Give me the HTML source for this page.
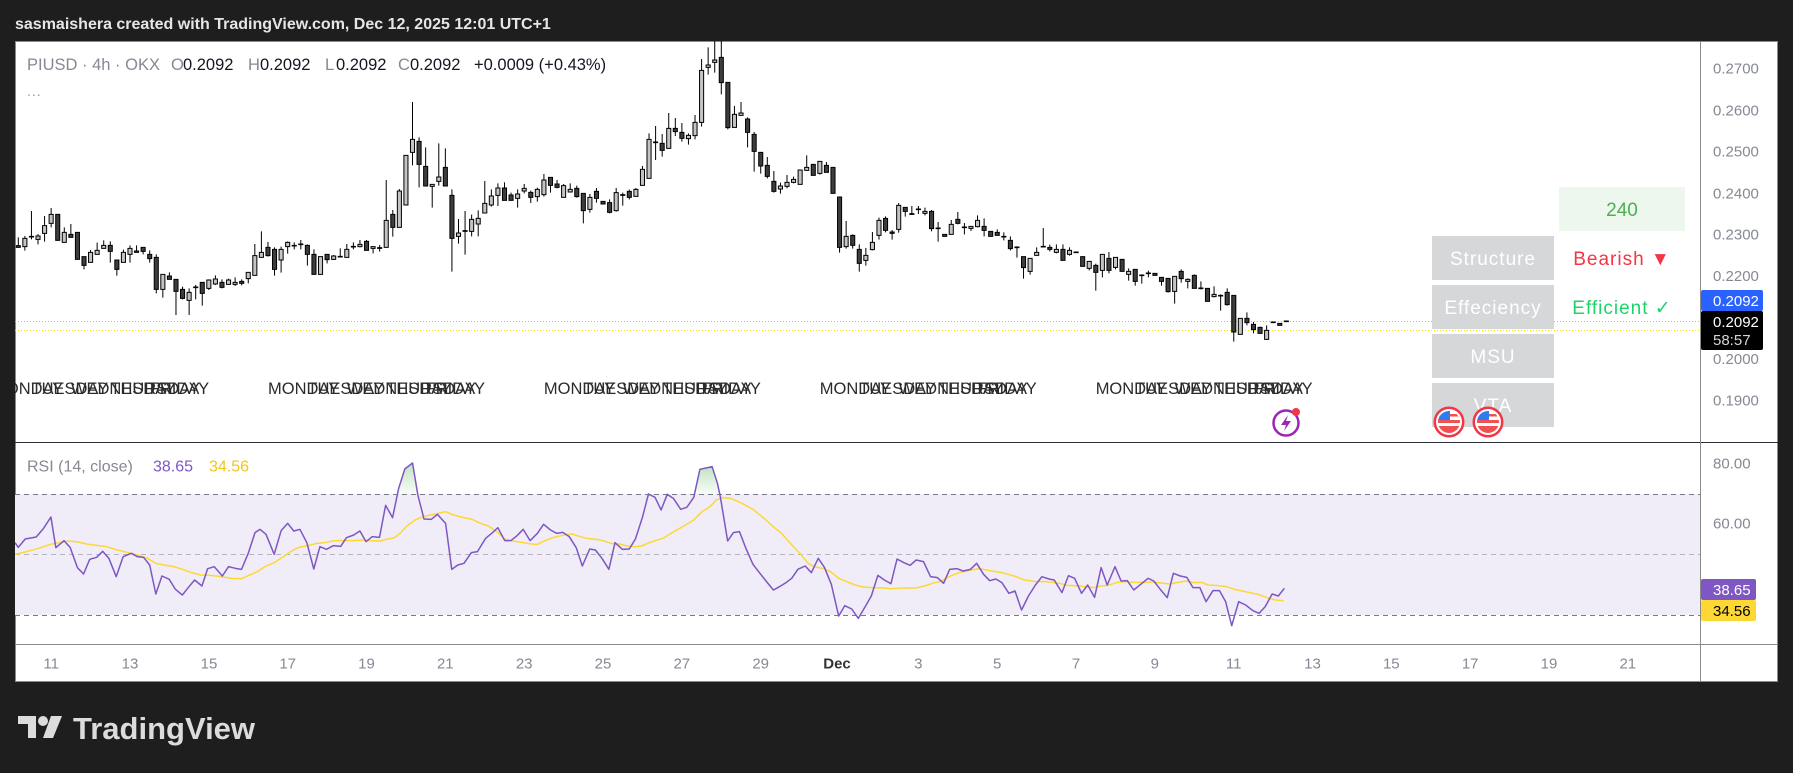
<!DOCTYPE html>
<html><head><meta charset="utf-8"><style>
html,body{margin:0;padding:0;background:#1e1e1e;width:1793px;height:773px;overflow:hidden}
svg{display:block}
text{font-family:"Liberation Sans",sans-serif}
</style></head><body>
<svg width="1793" height="773" viewBox="0 0 1793 773" xmlns="http://www.w3.org/2000/svg">
<defs>
<clipPath id="pane"><rect x="15" y="41" width="1685" height="401"/></clipPath>
<clipPath id="rsipane"><rect x="15" y="443" width="1685" height="201"/></clipPath>
<clipPath id="fc"><circle cx="0" cy="0" r="11"/></clipPath>
<linearGradient id="gr" x1="0" y1="0" x2="0" y2="1"><stop offset="0" stop-color="#4caf50" stop-opacity="0.35"/><stop offset="1" stop-color="#4caf50" stop-opacity="0.03"/></linearGradient>
</defs>
<rect x="0" y="0" width="1793" height="773" fill="#1e1e1e"/>
<text x="15" y="29" font-size="16" font-weight="bold" fill="#e6e6e6">sasmaishera created with TradingView.com, Dec 12, 2025 12:01 UTC+1</text>
<rect x="15.5" y="41.5" width="1762" height="640" fill="#fff" stroke="#8a8a8a"/>

<!-- price lines -->
<line x1="15" y1="321.5" x2="1700" y2="321.5" stroke="#b5b5b5" stroke-dasharray="1 2"/>
<line x1="15" y1="330.5" x2="1700" y2="330.5" stroke="#f2e200" stroke-dasharray="1 2"/>

<!-- legend -->
<text y="70" font-size="16.5" fill="#868993"><tspan x="27">PIUSD · 4h · OKX</tspan><tspan x="171">O</tspan><tspan x="248">H</tspan><tspan x="325">L</tspan><tspan x="398">C</tspan></text>
<text y="70" font-size="16.5" fill="#131722"><tspan x="183">0.2092</tspan><tspan x="260">0.2092</tspan><tspan x="336">0.2092</tspan><tspan x="410">0.2092</tspan><tspan x="474">+0.0009 (+0.43%)</tspan></text>
<text x="27" y="96" font-size="14" fill="#9598a1" letter-spacing="1">...</text>

<!-- candles -->
<svg x="15" y="41" width="1275" height="400" viewBox="-0.502 3 194.06 1200" preserveAspectRatio="none">
<path vector-effect="non-scaling-stroke" stroke="#000" stroke-width="1" fill="none" d="M0 592V622M1 588V632M2 513V598M3 582V613M4 528V605M5 504V562M6 523V601M7 562V607M8 552V592M9 577V658M10 650V688M11 630V667M12 608V643M13 601V625M14 604V668M15 660V707M16 629V667M17 616V668M18 616V637M19 622V643M20 631V668M21 643V760M22 703V773M23 697V718M24 718V825M25 740V778M26 745V825M27 735V778M28 727V797M29 718V750M30 706V735M31 718V745M32 716V733M33 712V738M34 718V736M35 697V730M36 612V706M37 574V652M38 606V650M39 622V707M40 620V698M41 604V641M42 607V628M43 600V628M44 613V677M45 628V703M46 650V703M47 643V670M48 645V660M49 625V652M50 612V652M51 607V628M52 600V622M53 600V631M54 620V640M55 615V635M56 420V622M57 510V590M58 447V562M59 346V495M60 186V376M61 292V442M62 322V438M63 433V503M64 310V437M65 325V438M66 448V695M67 537V611M68 513V644M69 524V589M70 511V589M71 423V519M72 448V500M73 430V498M74 427V481M75 458V481M76 448V503M77 432V460M78 452V489M79 443V485M80 402V470M81 412V458M82 420V445M83 432V472M84 430V456M85 437V473M86 460V550M87 462V518M88 444V488M89 484V492M90 478V520M91 444V515M92 458V497M93 449V478M94 444V469M95 378V436M96 280V415M97 258V360M98 282V350M99 219V325M100 234V288M101 249V305M102 280V314M103 225V298M104 57V260M105 22V104M106 -20V98M107 -20V163M108 127V268M109 198V262M110 186V226M111 232V322M112 276V395M113 337V401M114 351V415M115 393V458M116 428V461M117 405V445M118 410V430M119 390V433M120 346V391M121 373V406M122 364V404M123 366V397M124 382V460M125 471V638M126 543V626M127 583V626M128 613V695M129 624V677M130 576V631M131 533V599M132 529V577M133 570V599M134 489V578M135 502V530M136 498V525M137 498V522M138 503V526M139 510V574M140 546V605M141 583V589M142 540V583M143 516V553M144 549V583M145 559V573M146 526V562M147 535V589M148 574V589M149 568V586M150 577V601M151 589V631M152 619V653M153 650V716M154 655V704M155 622V646M156 564V622M157 614V634M158 613V640M159 613V661M160 622V647M161 637V639M162 650V679M163 664V691M164 671V752M165 643V712M166 636V700M167 652V688M168 658V694M169 685V722M170 688V737M171 703V731M172 692V712M173 700V706M174 712V737M175 715V758M176 709V791M177 688V728M178 715V745M179 703V745M180 724V748M181 745V784M182 739V772M183 763V812M184 745V797M185 766V905M186 835V883M187 817V856M188 846V880M189 860V880M190 856V898"/>
<g transform="translate(-0.31 0)">
<path vector-effect="non-scaling-stroke" stroke="#000" stroke-width="1" fill="#c4c4c4" d="M1 595h.62v25h-.62zM3 588h.62v10h-.62zM4 557h.62v23h-.62zM5 523h.62v27h-.62zM7 577h.62v30h-.62zM11 637h.62v30h-.62zM12 631h.62v12h-.62zM13 616h.62v9h-.62zM16 637h.62v30h-.62zM17 625h.62v18h-.62zM22 703h.62v45h-.62zM26 757h.62v24h-.62zM29 720h.62v25h-.62zM30 717h.62v15h-.62zM32 720h.62v13h-.62zM33 727h.62v6h-.62zM35 697h.62v19h-.62zM36 647h.62v59h-.62zM37 637h.62v15h-.62zM40 628h.62v32h-.62zM41 607h.62v13h-.62zM46 650h.62v53h-.62zM48 648h.62v10h-.62zM50 628h.62v24h-.62zM52 613h.62v7h-.62zM54 620h.62v5h-.62zM56 541h.62v81h-.62zM58 453h.62v109h-.62zM59 346h.62v149h-.62zM60 298h.62v39h-.62zM63 433h.62v6h-.62zM64 411h.62v13h-.62zM67 579h.62v10h-.62zM69 538h.62v36h-.62zM70 535h.62v17h-.62zM71 490h.62v29h-.62zM72 468h.62v27h-.62zM73 444h.62v22h-.62zM76 462h.62v13h-.62zM77 445h.62v8h-.62zM79 448h.62v22h-.62zM80 420h.62v44h-.62zM83 437h.62v35h-.62zM84 448h.62v8h-.62zM87 472h.62v36h-.62zM91 458h.62v54h-.62zM94 448h.62v21h-.62zM95 388h.62v48h-.62zM96 298h.62v117h-.62zM99 265h.62v60h-.62zM102 286h.62v10h-.62zM103 247h.62v40h-.62zM104 91h.62v156h-.62zM105 75h.62v7h-.62zM106 60h.62v7h-.62zM109 223h.62v39h-.62zM110 219h.62v7h-.62zM116 438h.62v9h-.62zM117 427h.62v12h-.62zM118 418h.62v9h-.62zM119 390h.62v43h-.62zM120 382h.62v9h-.62zM122 364h.62v36h-.62zM126 589h.62v31h-.62zM129 646h.62v15h-.62zM130 607h.62v22h-.62zM131 541h.62v45h-.62zM134 496h.62v72h-.62zM138 514h.62v6h-.62zM142 553h.62v30h-.62zM145 559h.62v6h-.62zM146 541h.62v19h-.62zM154 655h.62v39h-.62zM155 637h.62v9h-.62zM158 628h.62v9h-.62zM160 631h.62v12h-.62zM163 664h.62v21h-.62zM165 643h.62v48h-.62zM167 652h.62v30h-.62zM169 694h.62v9h-.62zM176 709h.62v45h-.62zM178 718h.62v6h-.62zM182 763h.62v7h-.62zM186 835h.62v48h-.62zM190 871h.62v27h-.62z"/>
<path vector-effect="non-scaling-stroke" stroke="#000" stroke-width="1" fill="#3d3d3d" d="M0 617h.62v5h-.62zM6 523h.62v78h-.62zM8 583h.62v9h-.62zM9 577h.62v81h-.62zM10 650h.62v26h-.62zM14 616h.62v18h-.62zM15 660h.62v28h-.62zM18 633h.62v4h-.62zM19 622h.62v12h-.62zM20 643h.62v13h-.62zM21 652h.62v96h-.62zM23 708h.62v10h-.62zM24 718h.62v36h-.62zM25 748h.62v27h-.62zM28 727h.62v33h-.62zM31 727h.62v15h-.62zM34 724h.62v6h-.62zM38 622h.62v25h-.62zM39 628h.62v60h-.62zM44 616h.62v27h-.62zM45 643h.62v60h-.62zM47 643h.62v16h-.62zM53 604h.62v27h-.62zM57 523h.62v39h-.62zM61 304h.62v69h-.62zM62 379h.62v59h-.62zM65 382h.62v56h-.62zM66 466h.62v129h-.62zM74 444h.62v37h-.62zM75 465h.62v16h-.62zM78 457h.62v15h-.62zM81 412h.62v24h-.62zM82 432h.62v10h-.62zM85 445h.62v25h-.62zM86 460h.62v52h-.62zM88 454h.62v21h-.62zM89 484h.62v8h-.62zM90 488h.62v29h-.62zM93 454h.62v18h-.62zM98 310h.62v21h-.62zM100 265h.62v10h-.62zM101 277h.62v18h-.62zM107 52h.62v76h-.62zM108 127h.62v136h-.62zM111 237h.62v40h-.62zM112 283h.62v51h-.62zM113 337h.62v41h-.62zM114 376h.62v33h-.62zM115 424h.62v30h-.62zM121 373h.62v33h-.62zM123 376h.62v21h-.62zM124 382h.62v78h-.62zM125 471h.62v151h-.62zM127 586h.62v30h-.62zM128 628h.62v42h-.62zM132 535h.62v36h-.62zM133 576h.62v4h-.62zM135 502h.62v12h-.62zM139 514h.62v52h-.62zM141 583h.62v6h-.62zM143 538h.62v12h-.62zM147 559h.62v12h-.62zM148 574h.62v15h-.62zM149 577h.62v9h-.62zM151 601h.62v25h-.62zM153 650h.62v33h-.62zM157 622h.62v6h-.62zM159 628h.62v33h-.62zM162 650h.62v29h-.62zM164 676h.62v21h-.62zM166 655h.62v36h-.62zM168 658h.62v36h-.62zM170 688h.62v36h-.62zM173 700h.62v6h-.62zM174 712h.62v12h-.62zM175 715h.62v40h-.62zM177 694h.62v22h-.62zM179 706h.62v39h-.62zM181 745h.62v39h-.62zM184 757h.62v37h-.62zM185 766h.62v110h-.62zM187 835h.62v13h-.62zM188 853h.62v16h-.62zM189 862h.62v18h-.62zM192 850h.62v6h-.62z"/>
<path vector-effect="non-scaling-stroke" stroke="#000" stroke-width="1" fill="#000" d="M2 589h.62v2h-.62zM27 741h.62v2h-.62zM42 616h.62v2h-.62zM43 612h.62v2h-.62zM49 649h.62v2h-.62zM51 619h.62v2h-.62zM55 623h.62v2h-.62zM68 572h.62v2h-.62zM92 464h.62v2h-.62zM97 306h.62v2h-.62zM136 521h.62v2h-.62zM137 507h.62v2h-.62zM140 564h.62v2h-.62zM144 561h.62v2h-.62zM150 589h.62v2h-.62zM152 621h.62v2h-.62zM156 619h.62v2h-.62zM161 636h.62v2h-.62zM171 705h.62v2h-.62zM172 699h.62v2h-.62zM180 744h.62v2h-.62zM183 766h.62v2h-.62zM191 846h.62v2h-.62zM193 843h.62v2h-.62z"/>
</g>
</svg>

<!-- weekday labels -->
<g clip-path="url(#pane)" font-size="16.5" fill="#2b2b2b">
<text y="394"><tspan x="-7.9">MONDAY</tspan></text><text y="394"><tspan x="31.5">TUESDAY</tspan></text><text y="394"><tspan x="70.9">WEDNESDAY</tspan></text><text y="394"><tspan x="110.4">THURSDAY</tspan></text><text y="394"><tspan x="149.8">FRIDAY</tspan></text>
<text y="394"><tspan x="268">MONDAY</tspan></text><text y="394"><tspan x="307.4">TUESDAY</tspan></text><text y="394"><tspan x="346.8">WEDNESDAY</tspan></text><text y="394"><tspan x="386.3">THURSDAY</tspan></text><text y="394"><tspan x="425.7">FRIDAY</tspan></text>
<text y="394"><tspan x="543.9">MONDAY</tspan></text><text y="394"><tspan x="583.3">TUESDAY</tspan></text><text y="394"><tspan x="622.7">WEDNESDAY</tspan></text><text y="394"><tspan x="662.2">THURSDAY</tspan></text><text y="394"><tspan x="701.6">FRIDAY</tspan></text>
<text y="394"><tspan x="819.8">MONDAY</tspan></text><text y="394"><tspan x="859.2">TUESDAY</tspan></text><text y="394"><tspan x="898.6">WEDNESDAY</tspan></text><text y="394"><tspan x="938.1">THURSDAY</tspan></text><text y="394"><tspan x="977.5">FRIDAY</tspan></text>
<text y="394"><tspan x="1095.7">MONDAY</tspan></text><text y="394"><tspan x="1135.1">TUESDAY</tspan></text><text y="394"><tspan x="1174.5">WEDNESDAY</tspan></text><text y="394"><tspan x="1214">THURSDAY</tspan></text><text y="394"><tspan x="1253.4">FRIDAY</tspan></text>
</g>

<!-- table -->
<rect x="1559" y="187" width="126" height="44" fill="#edf7ee"/>
<text x="1622" y="216" font-size="19" fill="#4caf50" text-anchor="middle">240</text>
<rect x="1432" y="236" width="122" height="44" fill="#d6d7d9"/>
<rect x="1432" y="285" width="122" height="44" fill="#d6d7d9"/>
<rect x="1432" y="334" width="122" height="44" fill="#d6d7d9"/>
<rect x="1432" y="383" width="122" height="44" fill="#d6d7d9"/>
<g font-size="19" fill="#fff" text-anchor="middle" letter-spacing="1">
<text x="1493" y="265">Structure</text>
<text x="1493" y="314">Effeciency</text>
<text x="1493" y="363">MSU</text>
<text x="1493" y="412">VTA</text>
</g>
<text x="1622" y="265" font-size="19" fill="#f23645" text-anchor="middle" letter-spacing="1">Bearish ▼</text>
<text x="1622" y="314" font-size="19" fill="#1ed36a" text-anchor="middle" letter-spacing="1">Efficient ✓</text>

<!-- flags -->
<g transform="translate(1449,422)">
<circle r="15.5" fill="#f23645"/><circle r="13" fill="#fff"/>
<g clip-path="url(#fc)"><rect x="-11" y="-11" width="22" height="22" fill="#fff"/><rect x="-11" y="-2" width="22" height="3" fill="#f05050"/><rect x="-11" y="4" width="22" height="7" fill="#f05050"/><rect x="-11" y="-11" width="12" height="9" fill="#2f7bf0"/><rect x="1" y="-8" width="10" height="2.5" fill="#f05050"/></g>
</g>
<g transform="translate(1488,422)">
<circle r="15.5" fill="#f23645"/><circle r="13" fill="#fff"/>
<g clip-path="url(#fc)"><rect x="-11" y="-11" width="22" height="22" fill="#fff"/><rect x="-11" y="-2" width="22" height="3" fill="#f05050"/><rect x="-11" y="4" width="22" height="7" fill="#f05050"/><rect x="-11" y="-11" width="12" height="9" fill="#2f7bf0"/><rect x="1" y="-8" width="10" height="2.5" fill="#f05050"/></g>
</g>
<!-- lightning icon -->
<g transform="translate(1286,423)">
<circle r="12.5" fill="#fff" stroke="#9c27b0" stroke-width="2.5"/>
<path d="M2 -8 L-5 2 H0 L-2 8 L5 -2 H0 Z" fill="#9c27b0"/>
<circle cx="10" cy="-11" r="4" fill="#f23645"/>
</g>

<!-- separators -->
<line x1="15" y1="442.5" x2="1778" y2="442.5" stroke="#2a2e39"/>
<line x1="15" y1="644.5" x2="1778" y2="644.5" stroke="#8a8a8a"/>
<line x1="1700.5" y1="41" x2="1700.5" y2="682" stroke="#8a8a8a"/>

<!-- price axis -->
<g font-size="15" fill="#868993">
<text x="1713" y="73.5">0.2700</text>
<text x="1713" y="115.5">0.2600</text>
<text x="1713" y="156.5">0.2500</text>
<text x="1713" y="198.5">0.2400</text>
<text x="1713" y="239.5">0.2300</text>
<text x="1713" y="281">0.2200</text>
<text x="1713" y="364">0.2000</text>
<text x="1713" y="405.5">0.1900</text>
</g>
<rect x="1701" y="290" width="62" height="21" rx="2" fill="#2962ff"/>
<text x="1713" y="306" font-size="15" fill="#fff">0.2092</text>
<rect x="1701" y="311" width="62" height="39" rx="2" fill="#000"/>
<text x="1713" y="327" font-size="15" fill="#fff">0.2092</text>
<text x="1713" y="345" font-size="15" fill="#d6d6d6">58:57</text>

<!-- RSI pane -->
<rect x="15" y="494" width="1685" height="121" fill="#f0edf8"/>
<line x1="15" y1="494.5" x2="1700" y2="494.5" stroke="#787b86" stroke-dasharray="5 4"/>
<line x1="15" y1="554.5" x2="1700" y2="554.5" stroke="#b2b5be" stroke-dasharray="5 4"/>
<line x1="15" y1="615.5" x2="1700" y2="615.5" stroke="#787b86" stroke-dasharray="5 4"/>
<g clip-path="url(#rsipane)">
<g transform="translate(15,470) scale(0.408163,0.333333)">
<polygon points="937,73 940,55 955,-3 974,-21 986.7,73" fill="url(#gr)"/>
<polygon points="1664.6,73 1678,-2 1708,-10 1721,40 1726.8,73" fill="url(#gr)"/>
<polyline vector-effect="non-scaling-stroke" fill="none" stroke="#fdd835" stroke-width="1.5" stroke-linejoin="round" points="0,253 25,246 50,238 70,230 90,222 110,218 130,213 150,215 175,222 200,226 225,230 250,240 275,247 300,255 325,265 345,280 365,285 390,290 410,298 430,307 455,315 480,316 505,320 530,325 555,326 575,315 595,304 615,288 635,278 655,262 675,245 695,232 720,226 740,220 760,218 780,212 800,212 830,212 850,210 870,212 895,213 910,208 930,203 945,188 960,168 980,150 1000,140 1030,132 1055,125 1075,135 1100,143 1120,148 1140,160 1160,168 1180,185 1200,207 1220,213 1245,218 1265,222 1280,223 1300,211 1320,202 1345,195 1365,192 1385,200 1405,206 1425,208 1440,212 1460,220 1480,222 1500,228 1520,230 1535,228 1550,220 1568,212 1588,205 1618,182 1643,165 1663,150 1683,125 1703,110 1718,90 1733,83 1753,85 1778,98 1808,118 1833,143 1858,170 1878,190 1898,218 1923,250 1943,280 1958,290 1978,295 1998,305 2018,325 2038,335 2058,345 2078,351 2098,353 2128,354 2148,356 2178,354 2208,354 2228,348 2248,340 2268,334 2288,320 2313,308 2338,301 2363,296 2388,302 2418,308 2448,318 2473,330 2498,334 2528,335 2558,340 2578,346 2608,348 2643,353 2658,348 2678,346 2698,338 2718,335 2748,337 2788,336 2828,342 2868,333 2888,338 2908,337 2923,345 2948,347 2968,350 2988,358 3018,366 3048,374 3068,383 3088,390 3108,392"/>
<polyline vector-effect="non-scaling-stroke" fill="none" stroke="#7e57c2" stroke-width="1.5" stroke-linejoin="round" points="0,218 8,232 25,207 52,201 70,175 88,141 100,233 120,212 135,232 153,293 168,312 183,268 200,262 215,244 230,265 248,320 265,260 285,250 300,260 315,262 330,285 345,372 360,318 378,328 393,358 410,375 425,352 440,330 458,348 472,296 488,290 508,318 523,290 540,295 555,298 572,248 588,188 600,178 615,193 635,253 652,182 668,160 683,183 698,178 715,218 732,297 747,230 763,238 780,227 798,229 812,203 830,195 845,183 860,215 875,200 893,202 908,106 925,143 940,55 955,-3 974,-21 987,75 1002,147 1020,148 1035,133 1055,160 1070,298 1085,285 1100,280 1118,248 1133,245 1153,205 1168,190 1183,173 1200,212 1215,212 1230,197 1245,178 1262,212 1280,190 1295,163 1312,180 1327,190 1342,187 1358,200 1375,233 1390,288 1408,237 1422,240 1438,265 1455,298 1470,218 1488,238 1505,237 1520,207 1537,143 1552,72 1568,82 1583,120 1598,73 1613,85 1631,118 1646,112 1663,82 1678,-2 1708,-10 1721,40 1728,80 1746,213 1760,188 1775,185 1790,233 1808,283 1825,310 1840,333 1858,360 1873,350 1890,337 1903,325 1918,298 1936,288 1951,308 1968,265 1983,292 2000,343 2018,438 2033,407 2050,417 2066,445 2083,410 2098,378 2114,316 2130,330 2146,341 2161,267 2178,278 2193,286 2208,270 2226,275 2243,320 2260,323 2275,340 2290,298 2308,296 2323,303 2341,298 2356,280 2373,313 2388,332 2403,327 2418,338 2435,370 2450,363 2466,420 2483,378 2500,345 2516,320 2533,327 2546,330 2565,368 2581,317 2596,325 2613,370 2628,345 2645,382 2661,293 2676,345 2695,290 2710,333 2725,332 2741,360 2758,343 2776,325 2790,333 2806,358 2823,383 2838,310 2855,318 2871,322 2886,353 2903,353 2918,395 2935,362 2951,362 2966,395 2981,467 2998,395 3015,405 3033,422 3048,430 3063,410 3080,372 3095,378 3110,355"/>
</g>
</g>
<text y="471.5" font-size="16"><tspan x="27" fill="#868993">RSI (14, close)</tspan><tspan x="153" fill="#7e57c2">38.65</tspan><tspan x="209" fill="#f5c518">34.56</tspan></text>
<g font-size="15" fill="#868993">
<text x="1713" y="468.5">80.00</text>
<text x="1713" y="528.5">60.00</text>
</g>
<rect x="1701" y="579" width="55" height="21" rx="2" fill="#7e57c2"/>
<text x="1713" y="595" font-size="15" fill="#fff">38.65</text>
<rect x="1701" y="600" width="55" height="21" rx="2" fill="#fdd835"/>
<text x="1713" y="616" font-size="15" fill="#000">34.56</text>

<!-- time axis -->
<g font-size="15" fill="#868993" text-anchor="middle">
<text x="51.2" y="668.5">11</text>
<text x="130" y="668.5">13</text>
<text x="209" y="668.5">15</text>
<text x="287.7" y="668.5">17</text>
<text x="366.5" y="668.5">19</text>
<text x="445.3" y="668.5">21</text>
<text x="524.2" y="668.5">23</text>
<text x="603" y="668.5">25</text>
<text x="681.8" y="668.5">27</text>
<text x="760.7" y="668.5">29</text>
<text x="837" y="668.5" fill="#333" font-weight="bold">Dec</text>
<text x="918.3" y="668.5">3</text>
<text x="997.2" y="668.5">5</text>
<text x="1076" y="668.5">7</text>
<text x="1154.8" y="668.5">9</text>
<text x="1233.7" y="668.5">11</text>
<text x="1312.5" y="668.5">13</text>
<text x="1391.3" y="668.5">15</text>
<text x="1470.2" y="668.5">17</text>
<text x="1549" y="668.5">19</text>
<text x="1627.8" y="668.5">21</text>
</g>

<!-- TradingView logo -->
<g fill="#dcdcdc">
<path d="M18 716H36V738H28V724H18Z"/>
<circle cx="43" cy="721" r="5"/>
<path d="M51 716H62L53 738H43Z"/>
</g>
<text x="73" y="739" font-size="31" font-weight="bold" fill="#dcdcdc">TradingView</text>
</svg>
</body></html>
